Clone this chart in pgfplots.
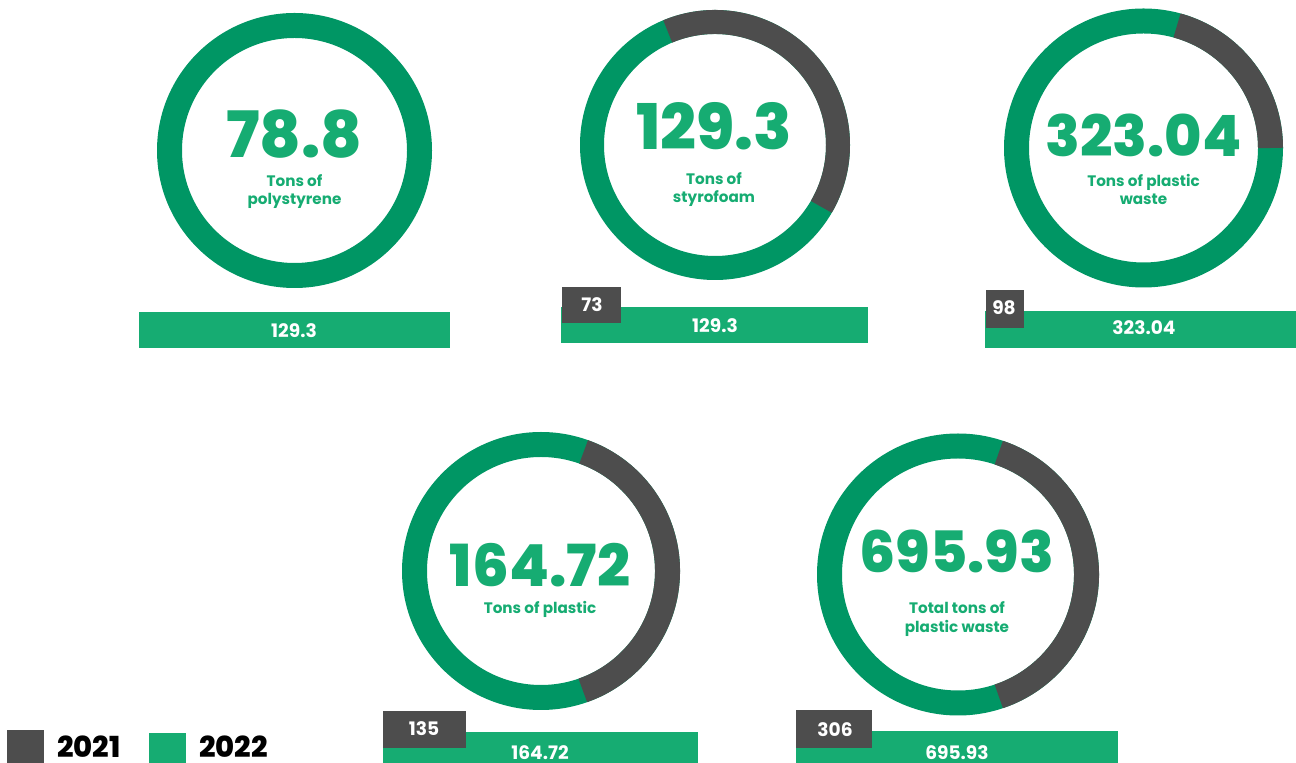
\documentclass[border=0pt]{standalone}
\usepackage{fontspec}
\setmainfont{Poppins}
\newfontfamily\heavy{Poppins ExtraBold}
\usepackage{pgfplots}
\pgfplotsset{compat=1.18}
\usepackage{pgfplotstable}
\definecolor{ringg}{HTML}{009664}
\definecolor{barg}{HTML}{16AC72}
\definecolor{dgray}{HTML}{4D4D4D}
\pgfdeclareplotmark{blank}{}
\newcommand\fs[1]{\fontsize{#1}{#1}\selectfont\bfseries}
\newcommand\hs[1]{\fontsize{#1}{#1}\heavy}
% donut rings: centre (px), mid radius, ring width (px)
\pgfplotstableread{
cx cy r w
294.5 150.5 125 25
715 145 123 24
1143.5 148 127 25
541 571 126.5 25
958 574.5 128.5 25
}\rings
% 2021 arcs: start and end angle (deg)
\pgfplotstableread{
cx cy r w ga gb
715 145 123 24 112.6 -30.2
1143.5 148 127 25 74.7 0
541 571 126.5 25 70.3 -70.7
958 574.5 128.5 25 71.5 -71.5
}\arcs
\begin{document}
\begin{tikzpicture}
\begin{axis}[name=ax, at={(0,0)}, anchor=south west, scale only axis,
  width=648pt, height=381.5pt, xmin=0, xmax=1296, ymin=0, ymax=763,
  y dir=reverse, hide axis, clip=false]
\addplot[scatter, only marks, mark=blank,
  visualization depends on={\thisrow{r} \as \rr},
  visualization depends on={\thisrow{w} \as \ww},
  scatter/@pre marker code/.code={\draw[ringg, line width=\ww*0.5pt] (0,0) circle[radius=\rr*0.5pt];},
  scatter/@post marker code/.code={}] table[x=cx, y=cy] \rings;
\addplot[scatter, only marks, mark=blank,
  visualization depends on={\thisrow{r} \as \rr},
  visualization depends on={\thisrow{w} \as \ww},
  visualization depends on={\thisrow{ga} \as \ga},
  visualization depends on={\thisrow{gb} \as \gb},
  scatter/@pre marker code/.code={\draw[dgray, line width=\ww*0.5pt] (\ga:{\rr*0.5pt}) arc[start angle=\ga, end angle=\gb, radius=\rr*0.5pt];},
  scatter/@post marker code/.code={}] table[x=cx, y=cy] \arcs;
% bars (2022 green, 2021 grey)
\addplot[fill=barg, draw=none] coordinates {(139,312) (450,312) (450,348) (139,348)};
\addplot[fill=barg, draw=none] coordinates {(561,307) (868,307) (868,343) (561,343)};
\addplot[fill=dgray, draw=none] coordinates {(562,287) (621,287) (621,323) (562,323)};
\addplot[fill=barg, draw=none] coordinates {(985,311) (1296,311) (1296,348) (985,348)};
\addplot[fill=dgray, draw=none] coordinates {(986,290) (1024,290) (1024,328) (986,328)};
\addplot[fill=barg, draw=none] coordinates {(383,732) (698,732) (698,763) (383,763)};
\addplot[fill=dgray, draw=none] coordinates {(383,711) (466,711) (466,748) (383,748)};
\addplot[fill=barg, draw=none] coordinates {(796,731) (1118,731) (1118,763) (796,763)};
\addplot[fill=dgray, draw=none] coordinates {(796,710) (872,710) (872,748) (796,748)};
% legend squares
\addplot[fill=dgray, draw=none] coordinates {(7,730) (44,730) (44,763) (7,763)};
\addplot[fill=barg, draw=none] coordinates {(149,733) (186,733) (186,763) (149,763)};
% big numbers
\node[font=\hs{32}, text=barg, anchor=base, inner sep=0pt] at (axis cs:294.5,158) {78.8};
\node[font=\hs{31.5}, text=barg, anchor=base, inner sep=0pt] at (axis cs:714,150) {129.3};
\node[font=\hs{28.5}, text=barg, anchor=base, inner sep=0pt] at (axis cs:1143.5,157) {323.04};
\node[font=\hs{29}, text=barg, anchor=base, inner sep=0pt] at (axis cs:540,587) {164.72};
\node[font=\hs{28.5}, text=barg, anchor=base, inner sep=0pt] at (axis cs:957,573) {695.93};
% subtitles
\node[font=\fs{7.6}, text=barg, anchor=base, inner sep=0pt] at (axis cs:294.5,187) {Tons of};
\node[font=\fs{7.6}, text=barg, anchor=base, inner sep=0pt] at (axis cs:294.5,205) {polystyrene};
\node[font=\fs{7.6}, text=barg, anchor=base, inner sep=0pt] at (axis cs:714,185) {Tons of};
\node[font=\fs{7.6}, text=barg, anchor=base, inner sep=0pt] at (axis cs:714,203) {styrofoam};
\node[font=\fs{7.6}, text=barg, anchor=base, inner sep=0pt] at (axis cs:1143.5,187) {Tons of plastic};
\node[font=\fs{7.6}, text=barg, anchor=base, inner sep=0pt] at (axis cs:1143.5,205) {waste};
\node[font=\fs{7.6}, text=barg, anchor=base, inner sep=0pt] at (axis cs:540,614) {Tons of plastic};
\node[font=\fs{7.6}, text=barg, anchor=base, inner sep=0pt] at (axis cs:957,614) {Total tons of};
\node[font=\fs{7.6}, text=barg, anchor=base, inner sep=0pt] at (axis cs:957,633) {plastic waste};
% bar labels
\node[font=\fs{9.3}, text=white, anchor=base, inner sep=0pt] at (axis cs:294,338) {129.3};
\node[font=\fs{9.3}, text=white, anchor=base, inner sep=0pt] at (axis cs:715,333) {129.3};
\node[font=\fs{9.3}, text=white, anchor=base, inner sep=0pt] at (axis cs:592,312) {73};
\node[font=\fs{9.3}, text=white, anchor=base, inner sep=0pt] at (axis cs:1144,335) {323.04};
\node[font=\fs{9.3}, text=white, anchor=base, inner sep=0pt] at (axis cs:1004,315) {98};
\node[font=\fs{9.3}, text=white, anchor=base, inner sep=0pt] at (axis cs:540,760) {164.72};
\node[font=\fs{9.3}, text=white, anchor=base, inner sep=0pt] at (axis cs:424,736) {135};
\node[font=\fs{9.3}, text=white, anchor=base, inner sep=0pt] at (axis cs:957,760) {695.93};
\node[font=\fs{9.3}, text=white, anchor=base, inner sep=0pt] at (axis cs:835,737) {306};
% legend text
\node[font=\hs{14.5}, text=black, anchor=base west, inner sep=0pt] at (axis cs:57,758) {2021};
\node[font=\hs{14.5}, text=black, anchor=base west, inner sep=0pt] at (axis cs:199,758) {2022};
\end{axis}
\pgfresetboundingbox
\useasboundingbox (ax.south west) rectangle (ax.north east);
\end{tikzpicture}
\end{document}
